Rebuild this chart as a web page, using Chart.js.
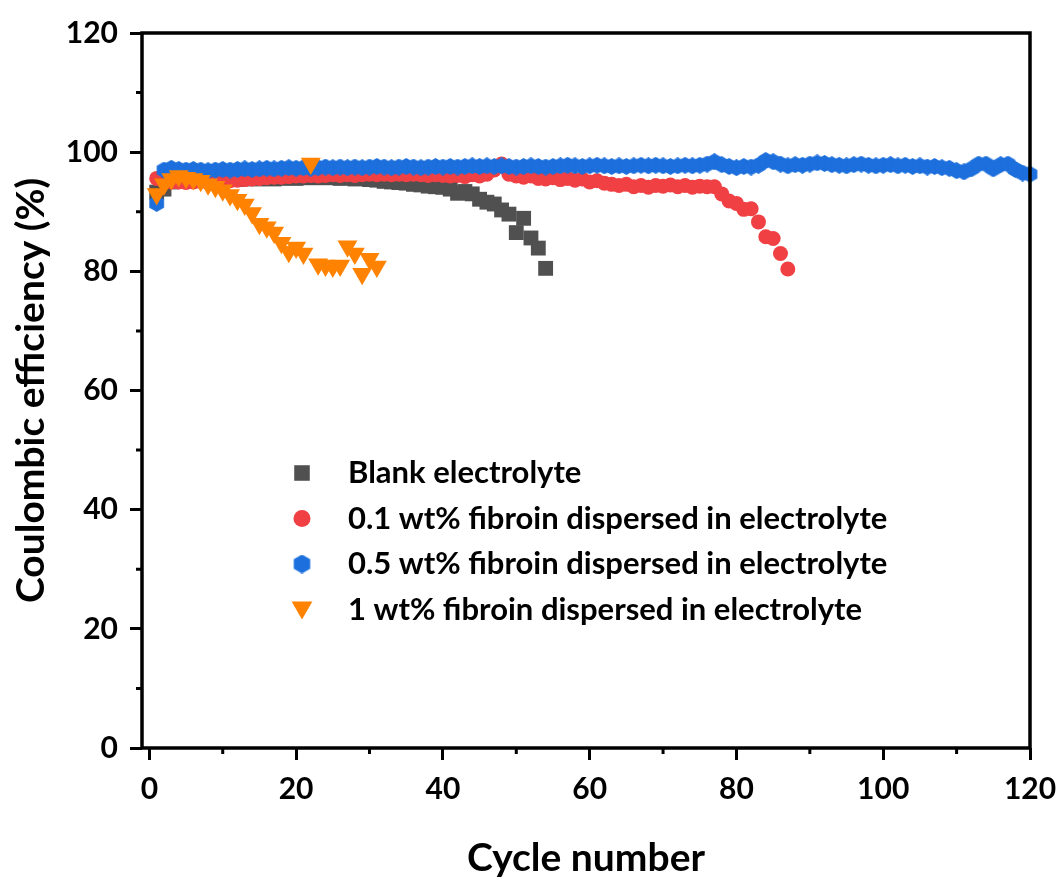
<!DOCTYPE html>
<html>
<head>
<meta charset="utf-8">
<script src="https://cdn.jsdelivr.net/npm/chart.js@4.4.0/dist/chart.umd.min.js"></script>
<style>
html, body { margin: 0; padding: 0; background: #fff; }
#wrap { width: 1058px; height: 882px; }
</style>
</head>
<body>
<div id="wrap"><canvas id="chart" width="1058" height="882"></canvas></div>
<script>
const FONT = "Lato, 'Open Sans', sans-serif";

// series labels
const seriesNames = [
    "Blank electrolyte",
    "0.1 wt% fibroin dispersed in electrolyte",
    "0.5 wt% fibroin dispersed in electrolyte",
    "1 wt% fibroin dispersed in electrolyte"
];

// coulombic efficiency (%), one value per cycle starting at cycle 1
const blank = [
    93.3, 93.8, 95.0, 95.3, 95.4, 95.3, 95.4, 95.5, 95.4, 95.5,
    95.5, 95.4, 95.5, 95.6, 95.5, 95.6, 95.5, 95.6, 95.7, 95.6,
    95.7, 95.8, 95.7, 95.8, 95.7, 95.6, 95.7, 95.5, 95.6, 95.4,
    95.3, 95.1, 95.0, 94.9, 94.8, 94.6, 94.5, 94.3, 94.2, 94.1,
    93.8, 93.1, 93.4, 93.0, 92.1, 91.6, 91.3, 90.3, 89.6, 86.5,
    88.9, 85.6, 83.9, 80.5
];

const fib01 = [
    95.6, 95.1, 95.0, 95.0, 94.9, 95.0, 95.1, 95.0, 95.1, 95.2,
    95.2, 95.3, 95.4, 95.5, 95.6, 95.7, 95.8, 95.8, 95.9, 96.0,
    96.0, 96.1, 96.0, 96.1, 96.2, 96.1, 96.2, 96.1, 96.2, 96.3,
    96.2, 96.3, 96.2, 96.3, 96.2, 96.3, 96.2, 96.1, 96.2, 96.1,
    96.0, 96.1, 95.9, 96.2, 96.0, 96.3, 97.0, 98.0, 96.3, 96.0,
    95.8, 96.0, 95.6, 95.5, 95.7, 95.4, 95.6, 95.3, 95.5, 95.0,
    95.2, 94.8, 94.6, 94.4, 94.6, 94.2, 94.4, 94.1, 94.4, 94.3,
    94.5, 94.2, 94.4, 94.1, 94.3, 94.2, 94.2, 93.0, 91.8, 91.4,
    90.4, 90.5, 88.3, 85.8, 85.5, 83.0, 80.4
];

const fib05 = [
    91.4, 97.0, 97.3, 97.1, 97.0, 97.1, 97.0, 96.9, 97.0, 97.1,
    97.0, 97.1, 97.2, 97.1, 97.2, 97.3, 97.2, 97.3, 97.4, 97.3,
    97.4, 97.3, 97.4, 97.5, 97.4, 97.5, 97.4, 97.5, 97.4, 97.5,
    97.6, 97.5, 97.4, 97.5, 97.6, 97.5, 97.4, 97.5, 97.6, 97.5,
    97.6, 97.5, 97.6, 97.7, 97.6, 97.7, 97.6, 97.7, 97.6, 97.5,
    97.6, 97.7, 97.6, 97.5, 97.6, 97.7, 97.8, 97.7, 97.6, 97.7,
    97.8, 97.7, 97.6, 97.7, 97.6, 97.7, 97.8, 97.7, 97.8, 97.7,
    97.6, 97.7, 97.8, 97.7, 97.8, 98.0, 98.4, 97.9, 97.6, 97.4,
    97.6, 97.5, 97.8, 98.6, 98.4, 98.0, 97.7, 97.9, 97.8, 98.0,
    98.2, 98.1, 97.9, 97.8, 97.7, 97.9, 98.0, 97.8, 97.7, 97.8,
    97.9, 97.7, 97.8, 97.6, 97.7, 97.5, 97.6, 97.4, 97.3, 96.9,
    96.7, 97.2, 98.0, 98.0, 97.2, 97.9, 98.0, 97.1, 96.5, 96.3
];

const fib1 = [
    93.0, 94.6, 95.5, 96.0, 95.7, 95.5, 95.2, 94.6, 94.2, 93.6,
    92.8, 92.0, 91.2, 89.8, 88.0, 87.4, 86.5, 84.8, 83.3, 84.0,
    83.0, 98.1, 81.2, 81.0, 80.8, 81.0, 84.2, 83.0, 79.6, 82.1,
    80.8
];

const xMajorTicks = [0, 20, 40, 60, 80, 100, 120];
const xMinorTicks = [10, 30, 50, 70, 90, 110];
const yMajorTicks = [0, 20, 40, 60, 80, 100, 120];
const yMinorTicks = [10, 30, 50, 70, 90, 110];

function toPoints(values) {
    return values.map((v, i) => ({ x: i + 1, y: v }));
}

function makeHexagon(size, color) {
    const c = document.createElement("canvas");
    c.width = size;
    c.height = size;
    const g = c.getContext("2d");
    const r = size / 2;
    g.fillStyle = color;
    g.beginPath();
    for (let i = 0; i < 6; i++) {
        const a = Math.PI / 3 * i - Math.PI / 2;
        const px = r + r * Math.cos(a);
        const py = r + r * Math.sin(a);
        if (i === 0) g.moveTo(px, py); else g.lineTo(px, py);
    }
    g.closePath();
    g.fill();
    return c;
}

const hexBlue = makeHexagon(17, "#1c6fdc");
const hexBlueLegend = makeHexagon(19, "#1c6fdc");

// draws the box round the plot and the short minor ticks
const framePlugin = {
    id: "frame",
    afterDatasetsDraw(chart) {
        const ctx = chart.ctx;
        const a = chart.chartArea;
        const xs = chart.scales.x, ys = chart.scales.y;
        ctx.save();
        ctx.strokeStyle = "#000";
        ctx.lineWidth = 3.5;
        ctx.strokeRect(a.left, a.top, a.right - a.left, a.bottom - a.top);
        ctx.lineWidth = 3;
        ctx.beginPath();
        xMinorTicks.forEach(v => {
            const px = xs.getPixelForValue(v);
            ctx.moveTo(px, a.bottom);
            ctx.lineTo(px, a.bottom + 6);
        });
        yMinorTicks.forEach(v => {
            const py = ys.getPixelForValue(v);
            ctx.moveTo(a.left, py);
            ctx.lineTo(a.left - 6, py);
        });
        ctx.stroke();
        ctx.restore();
    }
};

// legend placed inside the plot area
const legendPlugin = {
    id: "innerLegend",
    afterDraw(chart) {
        const ctx = chart.ctx;
        ctx.save();
        chart.data.datasets.forEach((ds, i) => {
            const y = 473 + i * 45.5;
            ctx.fillStyle = ds.backgroundColor;
            Chart.helpers.drawPoint(ctx, {
                pointStyle: ds.legendStyle,
                rotation: ds.rotation || 0,
                radius: ds.legendRadius,
                borderWidth: 0
            }, 302, ds.legendStyle === "triangle" ? y - 2 : y);
            ctx.fillStyle = "#000";
            ctx.font = "bold 31px " + FONT;
            ctx.textBaseline = "middle";
            ctx.textAlign = "left";
            ctx.fillText(ds.label, 348, y);
        });
        ctx.restore();
    }
};

const tickFont = { family: FONT, size: 30, weight: "bold" };
const titleFont = { family: FONT, size: 39, weight: "bold" };

new Chart(document.getElementById("chart"), {
    type: "scatter",
    data: {
        datasets: [
            {
                label: seriesNames[0], data: toPoints(blank),
                pointStyle: "rect", legendStyle: "rect", pointRadius: 10.5, legendRadius: 11,
                backgroundColor: "#505050", borderWidth: 0, order: 4, clip: false
            },
            {
                label: seriesNames[1], data: toPoints(fib01),
                pointStyle: "circle", legendStyle: "circle", pointRadius: 7.5, legendRadius: 8.5,
                backgroundColor: "#f04044", borderWidth: 0, order: 3, clip: false
            },
            {
                label: seriesNames[2], data: toPoints(fib05),
                pointStyle: hexBlue, legendStyle: hexBlueLegend, pointRadius: 8, legendRadius: 9,
                backgroundColor: "#1c6fdc", borderWidth: 0, order: 2, clip: false
            },
            {
                label: seriesNames[3], data: toPoints(fib1),
                pointStyle: "triangle", legendStyle: "triangle", rotation: 180, pointRadius: 11.5, legendRadius: 12,
                backgroundColor: "#ff8200", borderWidth: 0, order: 1, clip: false
            }
        ]
    },
    options: {
        responsive: false,
        animation: false,
        devicePixelRatio: 1,
        layout: { padding: { top: 33, right: 28, left: 0, bottom: 0 } },
        plugins: {
            legend: { display: false },
            tooltip: { enabled: false }
        },
        scales: {
            x: {
                type: "linear",
                min: -1,
                max: 120,
                afterBuildTicks: s => { s.ticks = xMajorTicks.map(v => ({ value: v })); },
                afterFit: s => { s.height = 134; s.paddingLeft = 0; s.paddingRight = 0; },
                border: { display: false },
                grid: { drawOnChartArea: false, tickLength: 12, tickWidth: 3, tickColor: "#000" },
                ticks: { color: "#000", font: tickFont, padding: 11, maxRotation: 0 },
                title: { display: true, text: "Cycle number", color: "#000", font: titleFont, padding: { top: 0, bottom: 0 } }
            },
            y: {
                type: "linear",
                min: 0,
                max: 120,
                afterBuildTicks: s => { s.ticks = yMajorTicks.map(v => ({ value: v })); },
                afterFit: s => { s.width = 142; s.paddingTop = 0; s.paddingBottom = 0; },
                border: { display: false },
                grid: { drawOnChartArea: false, tickLength: 12, tickWidth: 3, tickColor: "#000" },
                ticks: { color: "#000", font: tickFont, padding: 12 },
                title: { display: true, text: "Coulombic efficiency (%)", color: "#000", font: titleFont, padding: { top: 8, bottom: 0 } }
            }
        }
    },
    plugins: [framePlugin, legendPlugin]
});
</script>
</body>
</html>
